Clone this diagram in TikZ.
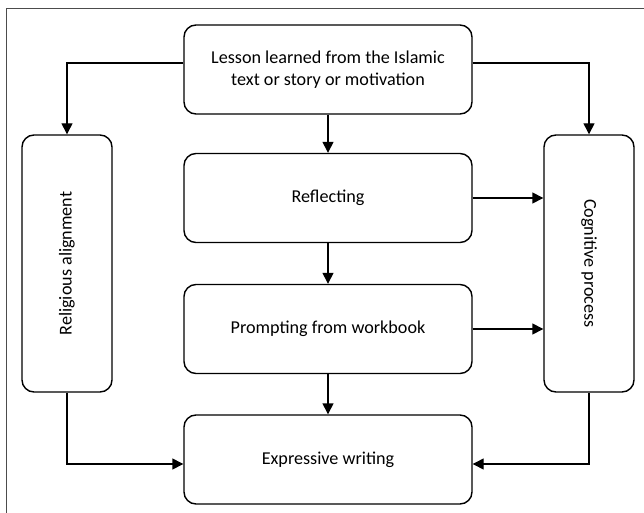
\documentclass[tikz,border=0pt]{standalone}
\usepackage{fontspec}
\setmainfont{Carlito}
\usetikzlibrary{arrows.meta}
\begin{document}
\begin{tikzpicture}[x=1bp,y=-1bp,
  box/.style={draw, line width=1.4bp, rounded corners=12bp, align=center, font=\fontsize{18.2}{21.5}\selectfont, inner sep=0pt},
  hbox/.style={box, minimum width=288bp, minimum height=89bp},
  vbox/.style={box, minimum width=90bp, minimum height=257bp},
  arr/.style={line width=1.4bp, -{Triangle[length=11bp,width=11bp]}}]
\useasboundingbox (0,0) rectangle (644,513);
\draw[line width=0.8bp, black!70] (6,513) -- (6,8) -- (644,8);
\node[hbox] (top) at (328,69.5) {Lesson learned from the Islamic\\text or story or motivation};
\node[hbox] (refl) at (328,198) {Reflecting};
\node[hbox] (prom) at (328,329) {Prompting from workbook};
\node[hbox] (expr) at (328,459.5) {Expressive writing};
\node[vbox] (left) at (67,263.5) {\rotatebox{90}{Religious alignment}};
\node[vbox] (right) at (589,263.5) {\rotatebox{-90}{Cognitive process}};
\draw[arr] ([yshift=6.5bp]top.west) -| (left.north);
\draw[arr] ([yshift=6.5bp]top.east) -| (right.north);
\draw[arr] (top) -- (refl);
\draw[arr] (refl) -- (prom);
\draw[arr] (prom) -- (expr);
\draw[arr] (refl.east) -- (refl.east -| right.west);
\draw[arr] (prom.east) -- (prom.east -| right.west);
\draw[arr] (left.south) |- ([yshift=-4.5bp]expr.west);
\draw[arr] (right.south) |- ([yshift=-4.5bp]expr.east);
\end{tikzpicture}
\end{document}
